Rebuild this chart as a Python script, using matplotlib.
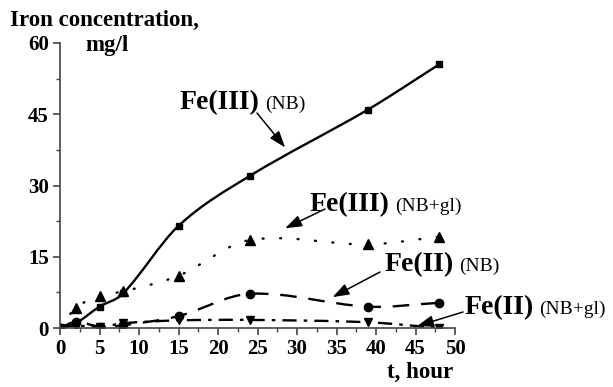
import numpy as np
import matplotlib
matplotlib.use('Agg')
import matplotlib.pyplot as plt
from matplotlib.path import Path
from matplotlib.patches import PathPatch

plt.rcParams['font.family'] = 'Liberation Serif'
plt.rcParams['font.weight'] = 'bold'

T = [0, 2, 5, 8, 15, 24, 39, 48]
FE3_NB = [0, 1.0, 4.5, 7.3, 21.5, 32.0, 46.0, 55.5]
FE3_NBGL = [0, 4.2, 6.8, 7.7, 11.0, 18.5, 17.6, 19.2]
FE2_NB = [0, 1.3, 0.3, 0.6, 2.5, 7.2, 4.5, 5.3]
FE2_NBGL = [0, 0.5, 0.2, 1.0, 1.6, 1.7, 1.2, 0.0]

X_TICKS = [0, 5, 10, 15, 20, 25, 30, 35, 40, 45, 50]
Y_TICKS = [0, 15, 30, 45, 60]


def smooth_path(x, y):
    # cubic hermite curve through the points, as bezier segments
    x = np.asarray(x, float)
    y = np.asarray(y, float)
    n = len(x)
    m = np.zeros(n)
    m[0] = (y[1] - y[0]) / (x[1] - x[0])
    m[-1] = (y[-1] - y[-2]) / (x[-1] - x[-2])
    for i in range(1, n - 1):
        m[i] = (y[i + 1] - y[i - 1]) / (x[i + 1] - x[i - 1])
    verts = [(x[0], y[0])]
    codes = [Path.MOVETO]
    for i in range(n - 1):
        h = (x[i + 1] - x[i]) / 3
        verts += [(x[i] + h, y[i] + m[i] * h),
                  (x[i + 1] - h, y[i + 1] - m[i + 1] * h),
                  (x[i + 1], y[i + 1])]
        codes += [Path.CURVE4] * 3
    return Path(verts, codes)


fig = plt.figure(figsize=(6.13, 3.87), dpi=100)
ax = fig.add_axes([60 / 613, 59 / 387, 395 / 613, 285 / 387])

series = [
    (FE3_NB, '-', 's', 5, 'butt'),
    (FE3_NBGL, (0, (0.4, 7)), '^', 6.5, 'round'),
    (FE2_NB, (0, (7, 5)), 'o', 6, 'butt'),
    (FE2_NBGL, (0, (6, 3, 1.5, 3)), 'v', 6, 'butt'),
]
for vals, ls, mk, ms, cap in series:
    ax.add_patch(PathPatch(smooth_path(T, vals), fill=False, lw=1.7,
                           ls=ls, ec='black', capstyle=cap))
    ax.plot(T, vals, ls='none', marker=mk, ms=ms, color='black')

ax.set_xlim(0, 50)
ax.set_ylim(0, 60)
ax.set_xticks(X_TICKS)
ax.set_yticks(Y_TICKS)
ax.set_xticks(np.arange(0, 50.1, 2.5), minor=True)
ax.set_yticks(np.arange(0, 60.1, 7.5), minor=True)
ax.spines['top'].set_visible(False)
ax.spines['right'].set_visible(False)
for s in ['left', 'bottom']:
    ax.spines[s].set_linewidth(1.2)
    ax.spines[s].set_color('#444444')
ax.tick_params(which='major', length=5, width=1.2, labelsize=15,
               color='#444444', pad=3)
ax.tick_params(which='minor', length=3, width=1.0, color='#444444')
for lab in ax.get_xticklabels() + ax.get_yticklabels():
    lab.set_fontweight('bold')

fig.text(10 / 613, 1 - 20 / 387, 'Iron concentration,', fontsize=16.5,
         fontweight='bold', va='center', ha='left')
fig.text(85 / 613, 1 - 46 / 387, 'mg/l', fontsize=16.5, fontweight='bold',
         va='center', ha='left')
fig.text(420 / 613, 1 - 372 / 387, 't, hour', fontsize=16.5,
         fontweight='bold', va='center', ha='center')

# labels with arrows
labels = [
    ('Fe(III)', '(NB)', (180, 103), (257, 113), (28.5, 38.0)),
    ('Fe(III)', '(NB+gl)', (310, 205), (325, 209), (28.5, 21.0)),
    ('Fe(II)', '(NB)', (385, 265), (380, 272), (34.5, 6.5)),
    ('Fe(II)', '(NB+gl)', (465, 308), (463, 312), (45.2, 0.4)),
]
for big, small, (px, py), (sx, sy), tip in labels:
    t = fig.text(px / 613, 1 - py / 387, big, fontsize=20, fontweight='bold',
                 va='center', ha='left')
    fig.canvas.draw()
    bb = t.get_window_extent()
    fig.text((bb.x1 + 5) / 613, 1 - (py + 1) / 387, small, fontsize=14,
             fontweight='normal', va='center', ha='left')
    ax.annotate('', xy=tip, xycoords='data',
                xytext=(sx / 613, 1 - sy / 387), textcoords='figure fraction',
                arrowprops=dict(arrowstyle='-|>,head_length=1.0,head_width=0.35',
                                color='black', lw=1.1, mutation_scale=10,
                                shrinkA=0, shrinkB=0),
                annotation_clip=False)

fig.savefig('out.png', dpi=100)
